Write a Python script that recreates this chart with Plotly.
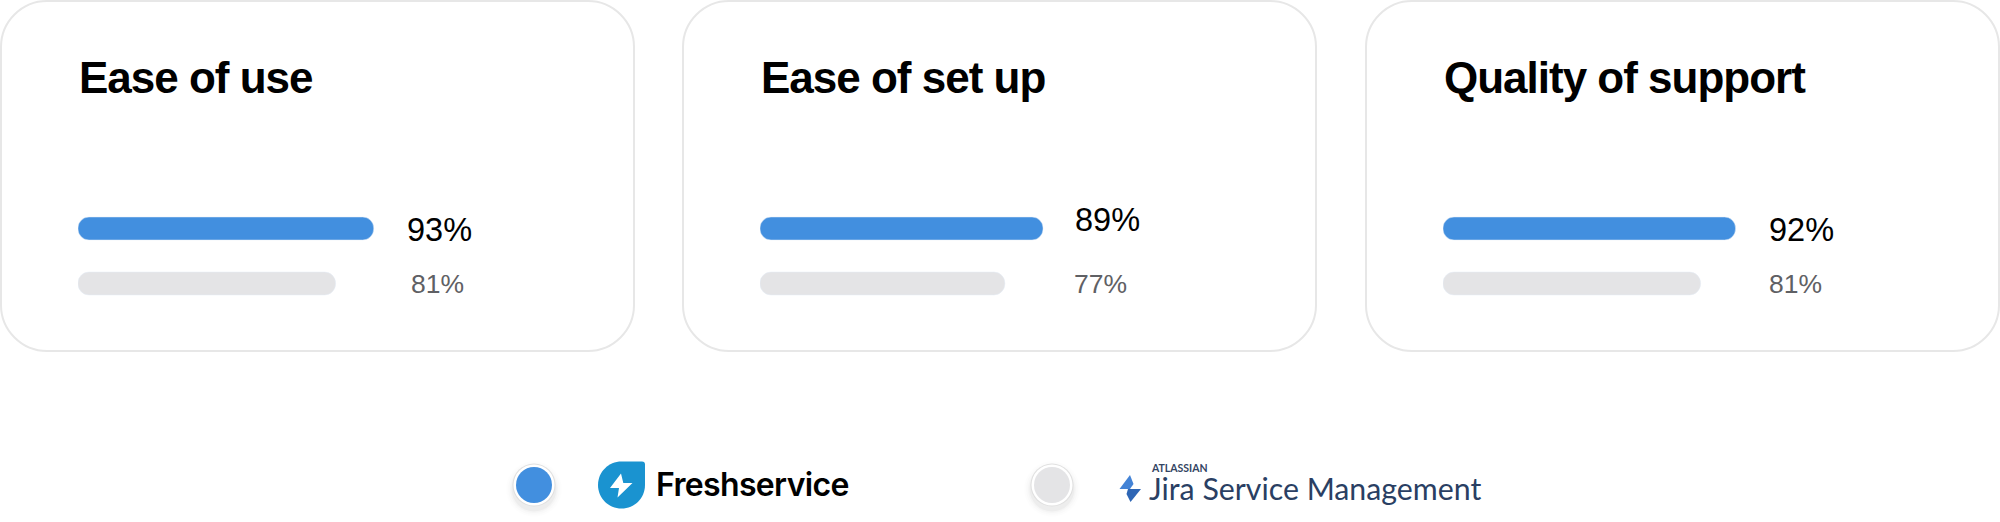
import plotly.graph_objects as go

# Values
categories = ["Ease of use", "Ease of set up", "Quality of support"]
products = ["Freshservice", "Jira Service Management"]
freshservice = [93, 89, 92]
jira = [81, 77, 81]

W = 2000
H = 522
BLUE = "#428fdf"
GREY = "#e4e4e6"


def px(x):
    return x / W


def py(y):
    return 1 - y / H


def card_path(x0, y0, x1, y1, r):
    k = r * 0.45  # distance of the control points from the corner
    return (f"M {px(x0 + r)} {py(y0)} L {px(x1 - r)} {py(y0)} "
            f"C {px(x1 - k)} {py(y0)} {px(x1)} {py(y0 + k)} {px(x1)} {py(y0 + r)} L {px(x1)} {py(y1 - r)} "
            f"C {px(x1)} {py(y1 - k)} {px(x1 - k)} {py(y1)} {px(x1 - r)} {py(y1)} L {px(x0 + r)} {py(y1)} "
            f"C {px(x0 + k)} {py(y1)} {px(x0)} {py(y1 - k)} {px(x0)} {py(y1 - r)} L {px(x0)} {py(y0 + r)} "
            f"C {px(x0)} {py(y0 + k)} {px(x0 + k)} {py(y0)} {px(x0 + r)} {py(y0)} Z")


def poly(points):
    return "M " + " L ".join(f"{px(x)} {py(y)}" for x, y in points) + " Z"


def circle(cx, cy, r, color):
    return dict(type="circle", xref="paper", yref="paper", x0=px(cx - r), x1=px(cx + r),
                y0=py(cy + r), y1=py(cy - r), fillcolor=color, line_width=0, layer="above")


def label(x, y, text, size, color, font="Liberation Sans", weight="normal"):
    return dict(xref="paper", yref="paper", x=px(x), y=py(y), text=text, showarrow=False,
                xanchor="left", yanchor="middle", align="left",
                font=dict(family=font, size=size, color=color, weight=weight))


# Pixel layout of each card
card_left = [1, 683, 1366]
card_right = [634, 1316, 1999]
bar_left = [78, 760, 1443]
title_left = [77, 759, 1442]
top_label_x = [405, 1073, 1767]
top_label_y = [230, 220, 230]
low_label_x = [409, 1072, 1767]

fig = go.Figure()
shapes = []
annotations = []
layout_axes = {}

for i in range(3):
    suffix = "" if i == 0 else str(i + 1)
    # an explicit base makes plotly round both ends of the bar
    fig.add_trace(go.Bar(y=[products[0]], x=[freshservice[i]], base=[0], orientation="h", marker_color=BLUE,
                         xaxis=f"x{suffix}", yaxis=f"y{suffix}", name=products[0], width=0.418))
    fig.add_trace(go.Bar(y=[products[1]], x=[jira[i]], base=[0], orientation="h", marker_color=GREY,
                         xaxis=f"x{suffix}", yaxis=f"y{suffix}", name=products[1], width=0.418))
    layout_axes[f"xaxis{suffix}"] = dict(domain=[px(bar_left[i]), px(bar_left[i] + 318)], range=[0, 100],
                                         visible=False, anchor=f"y{suffix}")
    layout_axes[f"yaxis{suffix}"] = dict(domain=[py(311), py(201)], categoryorder="array",
                                         categoryarray=products, autorange="reversed",
                                         visible=False, anchor=f"x{suffix}")
    shapes.append(dict(type="path", xref="paper", yref="paper", layer="below",
                       path=card_path(card_left[i], 1, card_right[i], 351, 46),
                       line=dict(color="#e7e7e7", width=2), fillcolor="white"))
    annotations.append(label(title_left[i], 77, categories[i], 44, "#000000", weight="bold"))
    annotations.append(label(top_label_x[i], top_label_y[i], f"{freshservice[i]}%", 32.5, "#000000"))
    annotations.append(label(low_label_x[i], 284, f"{jira[i]}%", 26.5, "#5f6064"))

# Legend swatches with soft shadow
for cx, color in [(534, BLUE), (1052, GREY)]:
    for r, alpha in [(28, 0.008), (26, 0.012), (24, 0.018), (22.5, 0.03)]:
        shapes.append(circle(cx, 489, r, f"rgba(0,0,0,{alpha})"))
    shapes.append(circle(cx, 485, 21.5, "#e0e0e0"))
    shapes.append(circle(cx, 485, 20.5, "white"))
    shapes.append(circle(cx, 485, 18, color))

# Freshservice logo
fresh_r = 23.5
fresh_cx = 621.5
fresh_cy = 485
shapes.append(dict(type="path", xref="paper", yref="paper", layer="above", line_width=0, fillcolor="#1a93d0",
                   path=(f"M {px(fresh_cx)} {py(fresh_cy - fresh_r)} L {px(fresh_cx + fresh_r - 3)} {py(fresh_cy - fresh_r)} "
                         f"Q {px(fresh_cx + fresh_r)} {py(fresh_cy - fresh_r)} {px(fresh_cx + fresh_r)} {py(fresh_cy - fresh_r + 3)} "
                         f"L {px(fresh_cx + fresh_r)} {py(fresh_cy)} "
                         f"C {px(fresh_cx + fresh_r)} {py(fresh_cy + 13)} {px(fresh_cx + 13)} {py(fresh_cy + fresh_r)} {px(fresh_cx)} {py(fresh_cy + fresh_r)} "
                         f"C {px(fresh_cx - 13)} {py(fresh_cy + fresh_r)} {px(fresh_cx - fresh_r)} {py(fresh_cy + 13)} {px(fresh_cx - fresh_r)} {py(fresh_cy)} "
                         f"C {px(fresh_cx - fresh_r)} {py(fresh_cy - 13)} {px(fresh_cx - 13)} {py(fresh_cy - fresh_r)} {px(fresh_cx)} {py(fresh_cy - fresh_r)} Z")))
shapes.append(dict(type="path", xref="paper", yref="paper", layer="above", line_width=0, fillcolor="white",
                   path=poly([(621, 473.5), (610, 488), (619, 488), (617.5, 497.5), (632.5, 483), (623.3, 483)])))

# Jira logo
shapes.append(dict(type="path", xref="paper", yref="paper", layer="above", line_width=0, fillcolor="#4383d6",
                   path=poly([(1130, 475), (1119.5, 489), (1130, 489), (1133.5, 484)])))
shapes.append(dict(type="path", xref="paper", yref="paper", layer="above", line_width=0, fillcolor="#2e66b5",
                   path=poly([(1128, 489), (1141, 489), (1130.5, 502), (1126.5, 494)])))

annotations.append(label(654, 484, products[0], 32, "#000000", font="Inter", weight=600))
annotations.append(label(1149, 468, "ATLASSIAN", 10.5, "#344563", font="Lato", weight="bold"))
annotations.append(label(1147, 488, products[1], 30.3, "#2a3f63", font="Lato"))

fig.update_layout(
    width=W,
    height=H,
    margin=dict(l=0, r=0, t=0, b=0),
    paper_bgcolor="white",
    plot_bgcolor="rgba(0,0,0,0)",
    showlegend=False,
    barmode="overlay",
    barcornerradius=11,
    shapes=shapes,
    annotations=annotations,
    **layout_axes,
)

# plotly has no letter spacing option, the titles and the logo text are set tight in the original
tighten = """
document.body.style.margin = '0';
document.querySelectorAll('.annotation-text').forEach(function (t) {
    if (t.style.fontWeight === '700' || t.style.fontWeight === 'bold') {
        if (t.textContent !== 'ATLASSIAN') { t.style.letterSpacing = '-1px'; }
    }
    if (t.textContent === 'Freshservice') { t.style.letterSpacing = '-0.65px'; }
});
"""
fig.write_html("out.html", config=dict(displayModeBar=False), post_script=tighten)
